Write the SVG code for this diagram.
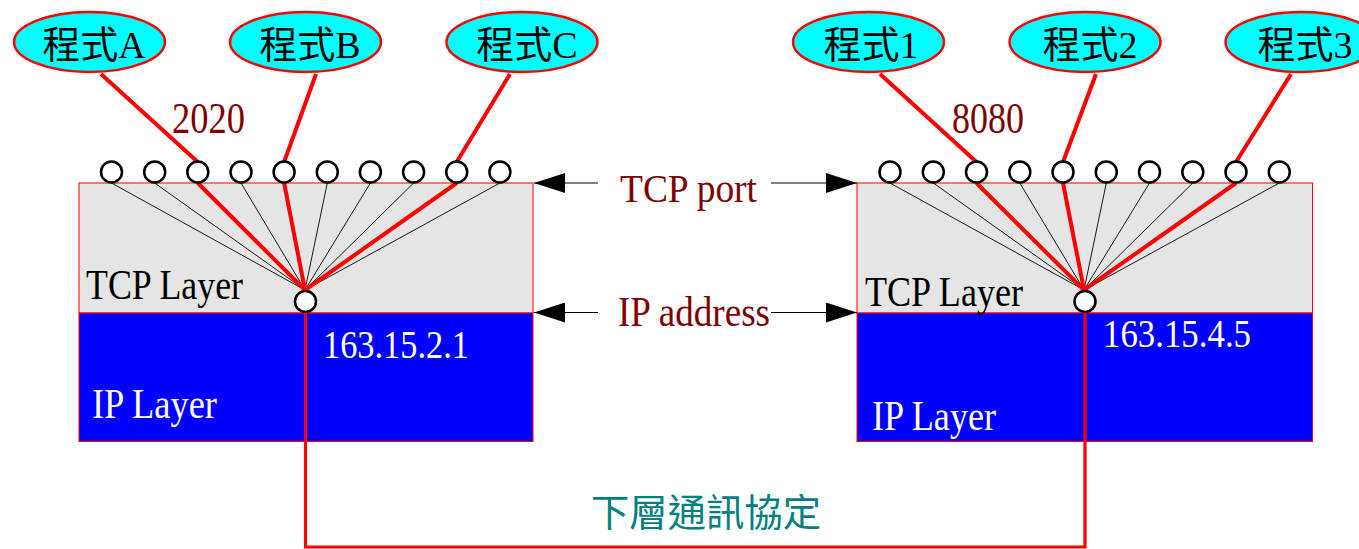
<svg xmlns="http://www.w3.org/2000/svg" width="1359" height="549" viewBox="0 0 1359 549">
<defs>
<style>
.t{font-family:"Liberation Serif","Noto Sans CJK TC",serif;}
.app{fill:#00FFFF;stroke:#FF0000;stroke-width:2.5;}
.appt{font-size:38px;fill:#000;text-anchor:middle;}
.port{fill:#fff;stroke:#000;stroke-width:2.5;}
.thin{stroke:#000;stroke-width:0.9;fill:none;}
.red{stroke:#FF0000;stroke-width:4;fill:none;}
.tcp{fill:#E5E5E5;stroke:#FF0000;stroke-width:1;}
.ip{fill:#0000FF;stroke:#FF0000;stroke-width:1;}
.dr{fill:#800000;}
.wt{fill:#fff;}
.ar{stroke:#000;stroke-width:1.2;fill:none;}
</style>
<marker id="ah" viewBox="0 0 31 20" refX="31" refY="10" markerWidth="31" markerHeight="20" markerUnits="userSpaceOnUse" orient="auto">
<path d="M0,0 L31,10 L0,20 z" fill="#000"/>
</marker>
</defs>
<rect width="1359" height="549" fill="#fff"/>

<!-- hosts -->
<g id="hostLeft">
<rect class="tcp" x="79" y="183" width="454" height="130"/>
<rect class="ip" x="79" y="313" width="454" height="128.5"/>
<text class="t" x="86" y="299" font-size="42" textLength="157" lengthAdjust="spacingAndGlyphs">TCP Layer</text>
<text class="t wt" x="323" y="358" font-size="39" textLength="146" lengthAdjust="spacingAndGlyphs">163.15.2.1</text>
<text class="t wt" x="92" y="418" font-size="42" textLength="125" lengthAdjust="spacingAndGlyphs">IP Layer</text>
</g>
<g id="hostRight">
<rect class="tcp" x="857" y="183" width="455.5" height="130"/>
<rect class="ip" x="857" y="313" width="455.5" height="128.5"/>
<text class="t" x="865" y="305.5" font-size="42" textLength="158" lengthAdjust="spacingAndGlyphs">TCP Layer</text>
<text class="t wt" x="1103" y="347" font-size="39" textLength="148" lengthAdjust="spacingAndGlyphs">163.15.4.5</text>
<text class="t wt" x="872" y="430" font-size="42" textLength="124" lengthAdjust="spacingAndGlyphs">IP Layer</text>
</g>

<!-- connectors -->
<g id="connectors">
<path class="thin" d="M111.5,183 L305,290 M154.7,183 L305,290 M197.8,183 L305,290 M241,183 L305,290 M284.1,183 L305,290 M327.3,183 L305,290 M370.4,183 L305,290 M413.6,183 L305,290 M456.7,183 L305,290 M499.9,183 L305,290"/>
<path class="thin" d="M890,183 L1084,290 M933.3,183 L1084,290 M976.5,183 L1084,290 M1019.8,183 L1084,290 M1063,183 L1084,290 M1106.3,183 L1084,290 M1149.5,183 L1084,290 M1192.8,183 L1084,290 M1236,183 L1084,290 M1279.3,183 L1084,290"/>
<path class="red" d="M101,74 L197.8,162 M197.8,183 L305,290"/>
<path class="red" d="M316,74 L284.1,162 M284.1,183 L305,290"/>
<path class="red" d="M510,74 L456.7,162 M456.7,183 L305,290"/>
<path class="red" d="M880,74 L976.5,162 M976.5,183 L1084,290"/>
<path class="red" d="M1096,74 L1063,162 M1063,183 L1084,290"/>
<path class="red" d="M1291,74 L1236,162 M1236,183 L1084,290"/>
<path d="M305.5,312 L305.5,547 L1085,547 L1085,312" stroke="#FF0000" stroke-width="3.2" fill="none"/>
<line class="ar" x1="598" y1="183" x2="534" y2="183" marker-end="url(#ah)"/>
<line class="ar" x1="771" y1="183" x2="857" y2="183" marker-end="url(#ah)"/>
<line class="ar" x1="598" y1="312.5" x2="534" y2="312.5" marker-end="url(#ah)"/>
<line class="ar" x1="771" y1="312.5" x2="857" y2="312.5" marker-end="url(#ah)"/>
</g>

<!-- ports -->
<g id="portsLeft">
<circle class="port" cx="111.5" cy="172" r="10.5"/>
<circle class="port" cx="154.7" cy="172" r="10.5"/>
<circle class="port" cx="197.8" cy="172" r="10.5"/>
<circle class="port" cx="241" cy="172" r="10.5"/>
<circle class="port" cx="284.1" cy="172" r="10.5"/>
<circle class="port" cx="327.3" cy="172" r="10.5"/>
<circle class="port" cx="370.4" cy="172" r="10.5"/>
<circle class="port" cx="413.6" cy="172" r="10.5"/>
<circle class="port" cx="456.7" cy="172" r="10.5"/>
<circle class="port" cx="499.9" cy="172" r="10.5"/>
<circle class="port" cx="305.5" cy="301.5" r="10.5"/>
</g>
<g id="portsRight">
<circle class="port" cx="890" cy="172" r="10.5"/>
<circle class="port" cx="933.3" cy="172" r="10.5"/>
<circle class="port" cx="976.5" cy="172" r="10.5"/>
<circle class="port" cx="1019.8" cy="172" r="10.5"/>
<circle class="port" cx="1063" cy="172" r="10.5"/>
<circle class="port" cx="1106.3" cy="172" r="10.5"/>
<circle class="port" cx="1149.5" cy="172" r="10.5"/>
<circle class="port" cx="1192.8" cy="172" r="10.5"/>
<circle class="port" cx="1236" cy="172" r="10.5"/>
<circle class="port" cx="1279.3" cy="172" r="10.5"/>
<circle class="port" cx="1085" cy="301.5" r="10.5"/>
</g>

<!-- applications -->
<g id="appA"><ellipse class="app" cx="89.5" cy="42" rx="75.5" ry="30"/><text class="t appt" x="94" y="58">程式A</text></g>
<g id="appB"><ellipse class="app" cx="305.5" cy="42" rx="75.5" ry="30"/><text class="t appt" x="310" y="58">程式B</text></g>
<g id="appC"><ellipse class="app" cx="522" cy="42" rx="75.5" ry="30"/><text class="t appt" x="527" y="58">程式C</text></g>
<g id="app1"><ellipse class="app" cx="868.5" cy="42" rx="75.5" ry="30"/><text class="t appt" x="871" y="58">程式1</text></g>
<g id="app2"><ellipse class="app" cx="1085" cy="42" rx="75.5" ry="30"/><text class="t appt" x="1090" y="58">程式2</text></g>
<g id="app3"><ellipse class="app" cx="1301" cy="42" rx="75.5" ry="30"/><text class="t appt" x="1305" y="58">程式3</text></g>

<!-- labels -->
<g id="labels">
<text class="t dr" x="172" y="133" font-size="44" textLength="73" lengthAdjust="spacingAndGlyphs">2020</text>
<text class="t dr" x="952" y="133" font-size="44" textLength="72" lengthAdjust="spacingAndGlyphs">8080</text>
<text class="t dr" x="620" y="201.5" font-size="41" textLength="137" lengthAdjust="spacingAndGlyphs">TCP port</text>
<text class="t dr" x="618" y="325.5" font-size="42" textLength="152" lengthAdjust="spacingAndGlyphs">IP address</text>
<text class="t" x="591" y="526" font-size="38" fill="#008080" textLength="230" lengthAdjust="spacingAndGlyphs">下層通訊協定</text>
</g>
</svg>
